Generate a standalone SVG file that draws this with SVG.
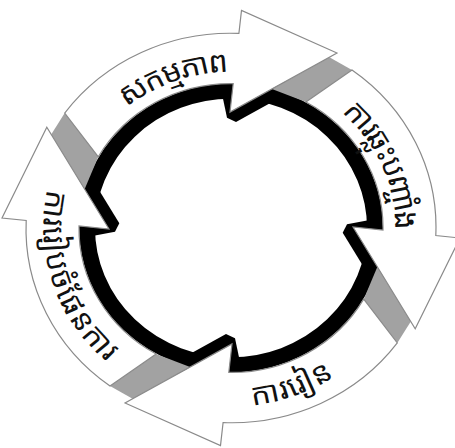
<svg xmlns="http://www.w3.org/2000/svg" width="455" height="448" viewBox="0 0 455 448">
<style>
.arrow{fill:#ffffff;stroke:#8a8a8a;stroke-width:1.2;stroke-linejoin:miter}
.strip{fill:#a2a2a2}
.shadow{fill:#000000}
.ring{fill:none;stroke:#000000;stroke-width:16}
.lbl{font-family:"Noto Sans Khmer","Khmer OS","Khmer OS System","Noto Serif Khmer","Noto Sans",sans-serif;font-size:31px;fill:#111111}
</style>
<defs>
<path id="arrowShape" d="M -132.7 -74.9 L -166.3 -121 A 205 205 0 0 1 7.9 -204.8 L 10.5 -229 L 106 -184.2 L -1 -122 L 2.2 -152 A 152 152 0 0 0 -132.7 -74.9 Z"/>
<polygon id="stripShape" points="-179.8,-98.4 -166.3,-121 -132.7,-74.9 -146.4,-40.9"/>
<polygon id="shadowShape" points="-8,-136 -2,-150 54.6,-154.4 60.6,-144 5,-111.7 -4,-116"/>
<path id="tpTop" d="M -152.4 -88 A 176 176 0 0 1 60.2 -165.4"/>
<path id="tpRight" d="M 78.6 -157.5 A 176 176 0 0 1 168.8 50"/>
<path id="tpBottom" d="M -60.2 165.4 A 176 176 0 0 0 152.4 88"/>
<path id="tpLeft" d="M -163.2 -65.9 A 176 176 0 0 0 -93.3 149.3"/>
</defs>
<g transform="translate(231,228) scale(1,0.95)">
<g id="ring-decor">
<circle class="ring" cx="0" cy="0" r="144"/>
<use href="#shadowShape" class="shadow"/>
<use href="#shadowShape" class="shadow" transform="rotate(90)"/>
<use href="#shadowShape" class="shadow" transform="rotate(180)"/>
<use href="#shadowShape" class="shadow" transform="rotate(270)"/>
<use href="#stripShape" class="strip"/>
<use href="#stripShape" class="strip" transform="rotate(90)"/>
<use href="#stripShape" class="strip" transform="rotate(180)"/>
<use href="#stripShape" class="strip" transform="rotate(270)"/>
</g>
<g id="node-action">
<use href="#arrowShape" class="arrow"/>
<text class="lbl"><textPath href="#tpTop" startOffset="50%" text-anchor="middle" dominant-baseline="central">សកម្មភាព</textPath></text>
</g>
<g id="node-reflection">
<use href="#arrowShape" class="arrow" transform="rotate(90)"/>
<text class="lbl"><textPath href="#tpRight" startOffset="50%" text-anchor="middle" dominant-baseline="central">ការឆ្លុះបញ្ចាំង</textPath></text>
</g>
<g id="node-learning">
<use href="#arrowShape" class="arrow" transform="rotate(180)"/>
<text class="lbl"><textPath href="#tpBottom" startOffset="50%" text-anchor="middle" dominant-baseline="central">ការរៀន</textPath></text>
</g>
<g id="node-planning">
<use href="#arrowShape" class="arrow" transform="rotate(270)"/>
<text class="lbl"><textPath href="#tpLeft" startOffset="50%" text-anchor="middle" dominant-baseline="central">ការរៀបចំផែនការ</textPath></text>
</g>
</g>
</svg>
